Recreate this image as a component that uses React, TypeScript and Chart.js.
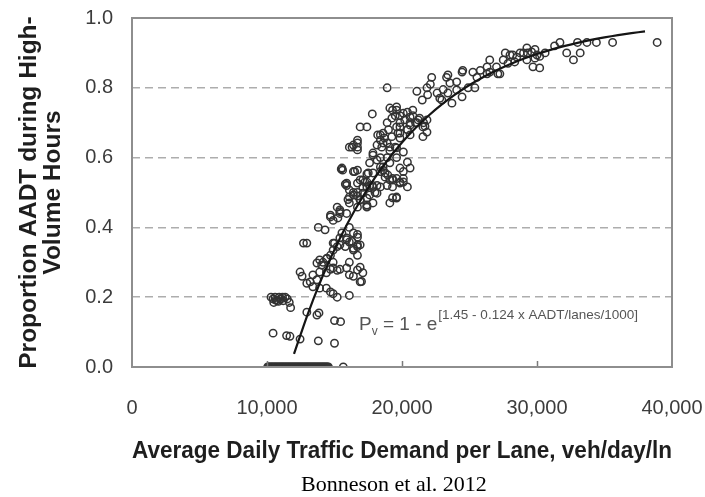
import React, { useEffect, useRef } from "react";
import { Chart, registerables } from "chart.js";

Chart.register(...registerables);

// ---------- data ----------
// Observed sites: [average daily traffic demand per lane (veh/day/ln), proportion of AADT in high-volume hours]
const observedPoints: [number, number][] = [
  // zero row
  [10050, 0], [10125, 0], [10200, 0], [10275, 0], [10350, 0], [10425, 0], [10500, 0], [10575, 0],
  [10650, 0], [10725, 0], [10800, 0], [10875, 0], [10950, 0], [11025, 0], [11100, 0], [11175, 0],
  [11250, 0], [11325, 0], [11400, 0], [11475, 0], [11550, 0], [11625, 0], [11700, 0], [11775, 0],
  [11850, 0], [11925, 0], [12000, 0], [12075, 0], [12150, 0], [12225, 0], [12300, 0], [12375, 0],
  [12450, 0], [12525, 0], [12600, 0], [12675, 0], [12750, 0], [12825, 0], [12900, 0], [12975, 0],
  [13050, 0], [13125, 0], [13200, 0], [13275, 0], [13350, 0], [13425, 0], [13500, 0], [13575, 0],
  [13650, 0], [13725, 0], [13800, 0], [13875, 0], [13950, 0], [14025, 0], [14100, 0], [14175, 0],
  [14250, 0], [14325, 0], [14400, 0], [14475, 0], [14550, 0], [15650, 0],
  // cluster near 0.2 at low demand
  [10300, 0.2], [10450, 0.195], [10600, 0.2], [10750, 0.19], [10900, 0.2], [11050, 0.195],
  [11200, 0.19], [11350, 0.2], [11500, 0.195], [11650, 0.185], [11750, 0.17], [10500, 0.185],
  [10650, 0.192], [10850, 0.188], [11150, 0.2],
  // low scattered points
  [10450, 0.097], [11450, 0.09], [11700, 0.088], [12450, 0.08], [13800, 0.075], [15000, 0.068],
  [15000, 0.133], [15450, 0.13], [12950, 0.157], [13700, 0.149], [13850, 0.155],
  // 0.2 - 0.45 band
  [14400, 0.226], [14700, 0.215], [14900, 0.21], [15200, 0.2], [16100, 0.205],
  [12450, 0.272], [12600, 0.26], [12950, 0.24], [13400, 0.23], [13700, 0.25], [13900, 0.226],
  [13400, 0.264], [13200, 0.244], [12700, 0.355], [12950, 0.355],
  [13900, 0.307], [14400, 0.31], [14900, 0.3], [15400, 0.28], [14700, 0.28], [15200, 0.277],
  [13700, 0.298], [13900, 0.272], [14400, 0.27], [14900, 0.284], [15900, 0.284], [16100, 0.3], [16100, 0.264],
  [16900, 0.286], [17100, 0.27], [16700, 0.278], [17000, 0.245], [16400, 0.26], [16900, 0.244],
  [14050, 0.292], [14150, 0.3], [14450, 0.312], [14700, 0.32], [14900, 0.335], [15000, 0.355],
  [14900, 0.355], [15200, 0.345], [15400, 0.35], [15800, 0.345], [16400, 0.34], [16700, 0.345],
  [16100, 0.358], [16400, 0.335], [16700, 0.35], [16900, 0.35], [16700, 0.32],
  [15400, 0.37], [15900, 0.365], [16300, 0.36], [15550, 0.384], [15900, 0.37], [16700, 0.372],
  [16400, 0.384], [16100, 0.4], [16700, 0.38],
  [13800, 0.4], [14300, 0.393], [14700, 0.435], [15400, 0.445], [14900, 0.42], [14700, 0.43],
  [15250, 0.427], [15400, 0.45], [15900, 0.44], [15200, 0.458], [15400, 0.44],
  // 0.45 - 0.6 band
  [15900, 0.52], [16400, 0.5], [16000, 0.48], [16700, 0.49], [16900, 0.48], [17400, 0.46],
  [17100, 0.515], [17600, 0.52], [19100, 0.47], [19300, 0.485], [19600, 0.484],
  [16100, 0.487], [16700, 0.5], [17400, 0.464], [17600, 0.493], [17400, 0.53], [17850, 0.515], [15800, 0.524],
  [16100, 0.507], [16400, 0.493], [17100, 0.498], [17400, 0.484], [16900, 0.478], [16100, 0.47],
  [16700, 0.458], [17400, 0.458], [17850, 0.47], [18150, 0.498], [18400, 0.516],
  [17100, 0.536], [17400, 0.516], [16700, 0.527], [15900, 0.527],
  [15500, 0.567], [16400, 0.56], [17400, 0.553], [16900, 0.536], [15550, 0.57], [16500, 0.56],
  [15600, 0.564], [16700, 0.564], [17500, 0.556], [17250, 0.53], [17800, 0.52], [18000, 0.5],
  [17850, 0.556], [18750, 0.544], [19100, 0.536], [19600, 0.54], [20100, 0.54], [19850, 0.527],
  [19300, 0.516], [20400, 0.516], [18400, 0.56], [18950, 0.55], [19300, 0.54], [19850, 0.53],
  [18900, 0.52], [18150, 0.52], [20100, 0.56], [20600, 0.57], [20400, 0.587], [19850, 0.57],
  [20100, 0.53], [19300, 0.536], [19600, 0.487], [18750, 0.556],
  // 0.6 - 0.75 band
  [16300, 0.63], [16700, 0.63], [16700, 0.65], [16400, 0.636], [16700, 0.642], [16700, 0.622], [16100, 0.63],
  [16900, 0.688], [17400, 0.688], [17800, 0.725],
  [17850, 0.613], [18150, 0.593], [17600, 0.585], [18400, 0.573], [18600, 0.564],
  [17850, 0.607], [18400, 0.6], [18900, 0.6], [19100, 0.585], [18600, 0.573],
  [18400, 0.665], [18700, 0.656], [18150, 0.636], [18600, 0.642], [19100, 0.63], [19600, 0.628],
  [20100, 0.616], [19850, 0.656], [18200, 0.665], [18600, 0.67], [18400, 0.65], [18900, 0.642],
  [19250, 0.66], [19500, 0.63], [19850, 0.67], [20400, 0.68], [20600, 0.7], [21100, 0.7],
  [21550, 0.688], [21850, 0.673], [21550, 0.66], [19250, 0.713], [19850, 0.7], [19600, 0.688], [19000, 0.68],
  [19100, 0.742], [19600, 0.736], [19850, 0.72], [20400, 0.73], [20800, 0.72], [21200, 0.708], [21600, 0.7],
  [19300, 0.736], [20200, 0.708], [20600, 0.693], [21000, 0.7], [21300, 0.713], [21700, 0.69],
  [19700, 0.67], [20600, 0.665], [19500, 0.72], [20100, 0.727], [20600, 0.716], [20800, 0.736],
  [21850, 0.708], [19850, 0.688], [20400, 0.68], [18900, 0.7], [18500, 0.63], [19100, 0.62],
  [19600, 0.6], [19600, 0.745],
  // 0.75 - 0.95 band
  [18900, 0.8], [21100, 0.79], [21500, 0.765], [21900, 0.78], [21850, 0.8], [22200, 0.83],
  [22100, 0.81], [22600, 0.785], [22800, 0.77], [23050, 0.795], [23400, 0.837], [23550, 0.814],
  [23400, 0.785], [24050, 0.817], [24450, 0.774], [24450, 0.845], [24900, 0.8], [25400, 0.8],
  [25550, 0.83], [25800, 0.85], [26300, 0.86], [26500, 0.88], [26300, 0.84], [27000, 0.86],
  [27250, 0.84], [27650, 0.9], [27500, 0.88], [28000, 0.894], [28500, 0.888], [29000, 0.9],
  [29250, 0.914], [27850, 0.87], [28350, 0.874], [22950, 0.765], [23300, 0.83], [24050, 0.794],
  [23700, 0.756], [24500, 0.85], [25250, 0.845], [26500, 0.845], [27100, 0.84], [28200, 0.894],
  [28750, 0.9], [29250, 0.88], [29600, 0.903], [29850, 0.885], [29700, 0.86], [30200, 0.857],
  [30000, 0.894], [30600, 0.9], [30200, 0.89], [29300, 0.9], [29850, 0.91],
  [31700, 0.93], [32200, 0.9], [32700, 0.88], [33200, 0.9], [33000, 0.93], [33700, 0.93],
  [34400, 0.93], [35600, 0.93], [38900, 0.93], [31300, 0.92],
];

// Fitted model curve
const fitDemand = [
  12000, 13000, 14000, 15000, 16000, 17000, 18000, 19000, 20000, 21000, 22000, 23000, 24000, 25000,
  26000, 27000, 28000, 29000, 30000, 31000, 32000, 33000, 34000, 35000, 36000, 37000, 38000,
];
const fitProportion = [
  0.0373, 0.1496, 0.2487, 0.3363, 0.4138, 0.4821, 0.5425, 0.5959, 0.643, 0.6846, 0.7214, 0.7539,
  0.7826, 0.808, 0.8304, 0.8502, 0.8676, 0.8831, 0.8967, 0.9087, 0.9194, 0.9288, 0.9371, 0.9444,
  0.9509, 0.9566, 0.9617,
];

const xTickValues = [0, 10000, 20000, 30000, 40000];
const yTickValues = [0, 0.2, 0.4, 0.6, 0.8, 1.0];

const xAxisTitle = "Average Daily Traffic Demand per Lane, veh/day/ln";
const yAxisTitle = ["Proportion AADT during High-", "Volume Hours"];
const captionText = "Bonneson et al. 2012";
const equationParts = { main: "P", sub: "v", mid: " = 1 - e", sup: "[1.45 - 0.124 x AADT/lanes/1000]" };
const equationAnchor = { x: 16815, y: 0.106 };

const SANS = '"Liberation Sans", Arial, Helvetica, sans-serif';

const framePlugin = {
  id: "frameAndNotes",
  afterDraw(chart: any) {
    const { ctx, chartArea, scales } = chart;
    const { left, right, top, bottom } = chartArea;
    ctx.save();
    // inner tick marks on x axis
    ctx.strokeStyle = "#7a7a7a";
    ctx.lineWidth = 1.5;
    for (const v of xTickValues) {
      if (v === 0 || v === 40000) continue;
      const px = Math.round(scales.x.getPixelForValue(v)) + 0.5;
      ctx.beginPath();
      ctx.moveTo(px, bottom);
      ctx.lineTo(px, bottom - 6);
      ctx.stroke();
    }
    // plot frame
    ctx.strokeStyle = "#8e8e8e";
    ctx.lineWidth = 2;
    ctx.strokeRect(left, top, right - left, bottom - top);

    // equation annotation
    let x = scales.x.getPixelForValue(equationAnchor.x);
    const y = scales.y.getPixelForValue(equationAnchor.y);
    ctx.fillStyle = "#555555";
    ctx.textBaseline = "alphabetic";
    ctx.textAlign = "left";
    ctx.font = `19px ${SANS}`;
    ctx.fillText(equationParts.main, x, y);
    x += ctx.measureText(equationParts.main).width;
    ctx.font = `12px ${SANS}`;
    ctx.fillText(equationParts.sub, x, y + 5);
    x += ctx.measureText(equationParts.sub).width;
    ctx.font = `19px ${SANS}`;
    ctx.fillText(equationParts.mid, x, y);
    x += ctx.measureText(equationParts.mid).width;
    ctx.font = `13.5px ${SANS}`;
    ctx.fillText(equationParts.sup, x + 1, y - 11);
    ctx.restore();
  },
};

export default function App() {
  const canvasRef = useRef<HTMLCanvasElement | null>(null);

  useEffect(() => {
    document.body.style.margin = "0";
    const canvas = canvasRef.current;
    if (!canvas) return;

    const chart = new Chart(canvas, {
      type: "scatter",
      data: {
        datasets: [
          {
            label: "fit",
            data: fitDemand.map((d, i) => ({ x: d, y: fitProportion[i] })),
            showLine: true,
            borderColor: "#151515",
            borderWidth: 2.2,
            pointRadius: 0,
            tension: 0.3,
            order: 0,
          } as any,
          {
            label: "observed",
            data: observedPoints.map(([d, p]) => ({ x: d, y: p })),
            pointStyle: "circle",
            pointRadius: 3.7,
            pointBorderWidth: 1.5,
            borderColor: "#333333",
            backgroundColor: "rgba(0,0,0,0)",
            order: 1,
          } as any,
        ],
      },
      options: {
        animation: false,
        responsive: false,
        devicePixelRatio: 1,
        layout: { padding: { left: 0, right: 33, top: 18, bottom: 27 } },
        plugins: {
          legend: { display: false },
          tooltip: { enabled: false },
        },
        scales: {
          x: {
            type: "linear",
            min: 0,
            max: 40000,
            afterBuildTicks: (s: any) => {
              s.ticks = xTickValues.map((v) => ({ value: v }));
            },
            afterFit: (s: any) => {
              s.height = 103;
              s.paddingLeft = 0;
              s.paddingRight = 0;
            },
            grid: { display: false, drawTicks: false },
            border: { display: false },
            ticks: {
              padding: 29,
              color: "#3c3c3c",
              font: { family: SANS, size: 20 },
              maxRotation: 0,
              callback: (v: any) => Number(v).toLocaleString("en-US"),
            },
            title: {
              display: true,
              text: xAxisTitle,
              color: "#1e1e1e",
              font: { family: SANS, size: 23.5, weight: "bold", lineHeight: 1.2 },
              padding: { top: 0, bottom: 4 },
            },
          },
          y: {
            type: "linear",
            min: 0,
            max: 1,
            afterBuildTicks: (s: any) => {
              s.ticks = yTickValues.map((v) => ({ value: v }));
            },
            afterFit: (s: any) => {
              s.width = 132;
              s.paddingTop = 0;
              s.paddingBottom = 0;
            },
            grid: {
              drawTicks: false,
              lineWidth: 1.6,
              color: (c: any) =>
                c.tick && (c.tick.value === 0 || c.tick.value === 1) ? "rgba(0,0,0,0)" : "#adadad",
            },
            border: { display: false, dash: [8, 5] },
            ticks: {
              padding: 19,
              color: "#3c3c3c",
              font: { family: SANS, size: 20 },
              callback: (v: any) => Number(v).toFixed(1),
            },
            title: {
              display: true,
              text: yAxisTitle,
              color: "#1e1e1e",
              font: { family: SANS, size: 24.5, weight: "bold", lineHeight: 0.95 },
              padding: { top: 18, bottom: 0 },
            },
          },
        },
      },
      plugins: [framePlugin],
    });

    return () => chart.destroy();
  }, []);

  return (
    <div style={{ position: "relative", width: 705, height: 497, background: "#ffffff" }}>
      <canvas ref={canvasRef} width={705} height={497} style={{ display: "block" }} />
      <div
        style={{
          position: "absolute",
          top: 471,
          left: 194,
          width: 400,
          textAlign: "center",
          fontFamily: '"Liberation Serif", "Times New Roman", serif',
          fontSize: 22,
          lineHeight: "26px",
          color: "#000",
          whiteSpace: "nowrap",
        }}
      >
        {captionText}
      </div>
    </div>
  );
}
